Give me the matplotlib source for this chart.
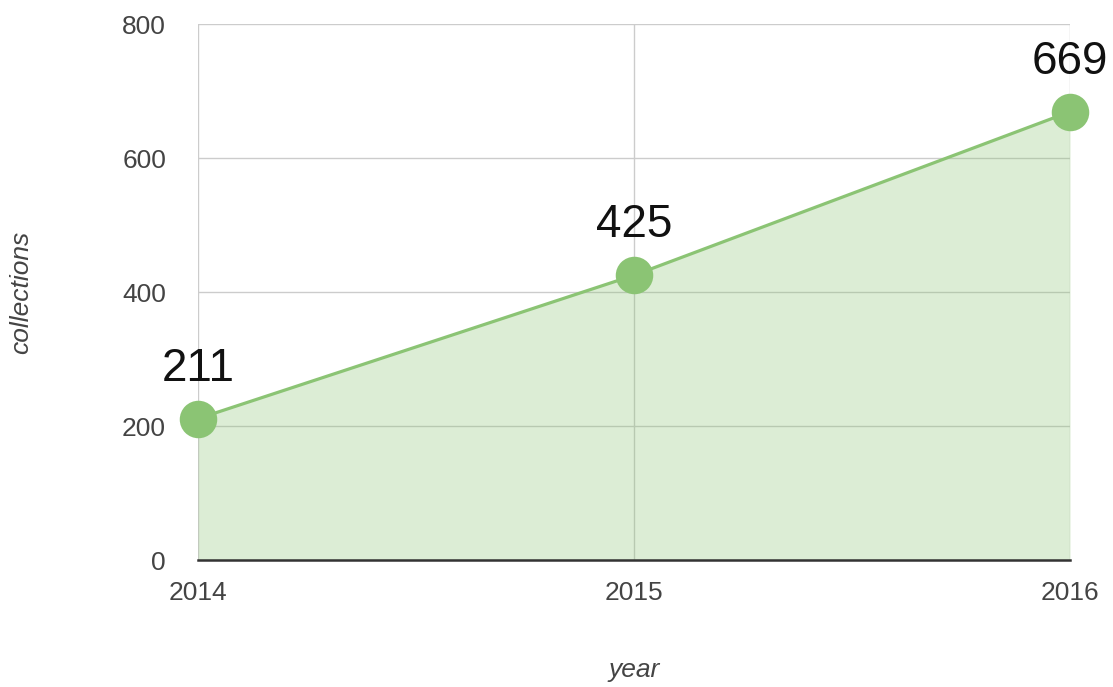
import matplotlib
matplotlib.use("Agg")
import matplotlib.pyplot as plt

years = [2014, 2015, 2016]
collections = [211, 425, 669]
y_ticks = [0, 200, 400, 600, 800]

line_color = '#8bc474'
grid_color = '#cccccc'
text_gray = '#444444'

plt.rcParams['font.family'] = ['Liberation Sans', 'DejaVu Sans']

fig = plt.figure(figsize=(11.13, 6.87), dpi=100)
ax = fig.add_axes([198 / 1113, 1 - 560 / 687, (1070 - 198) / 1113, (560 - 24) / 687])

# translucent fill so the grid shows through, as in the reference
ax.fill_between(years, collections, 0, color=line_color, alpha=0.3,
                linewidth=0, zorder=2)
ax.plot(years, collections, color=line_color, linewidth=2.3, zorder=3,
        marker='o', markersize=27, markeredgewidth=0, clip_on=False)

for x, y in zip(years, collections):
    ax.annotate(str(y), (x, y), xytext=(0, 36), textcoords='offset points',
                ha='center', va='center', fontsize=33, color='#111111')

ax.set_xlim(years[0], years[-1])
ax.set_ylim(0, 800)
ax.set_xticks(years)
ax.set_yticks(y_ticks)
ax.grid(True, color=grid_color, linewidth=1.0, zorder=1)
ax.set_axisbelow(True)

for side in ['top', 'right', 'left']:
    ax.spines[side].set_visible(False)
ax.spines['bottom'].set_color('#333333')
ax.spines['bottom'].set_linewidth(1.8)
ax.spines['bottom'].set_zorder(4)

ax.tick_params(axis='both', length=0, labelsize=19, labelcolor=text_gray)
ax.tick_params(axis='y', pad=23)
ax.tick_params(axis='x', pad=15)

ax.set_xlabel('year', fontsize=19, style='italic', color=text_gray, labelpad=38)
ax.set_ylabel('collections', fontsize=19, style='italic', color=text_gray, labelpad=64)

fig.savefig('out.png', dpi=100)
